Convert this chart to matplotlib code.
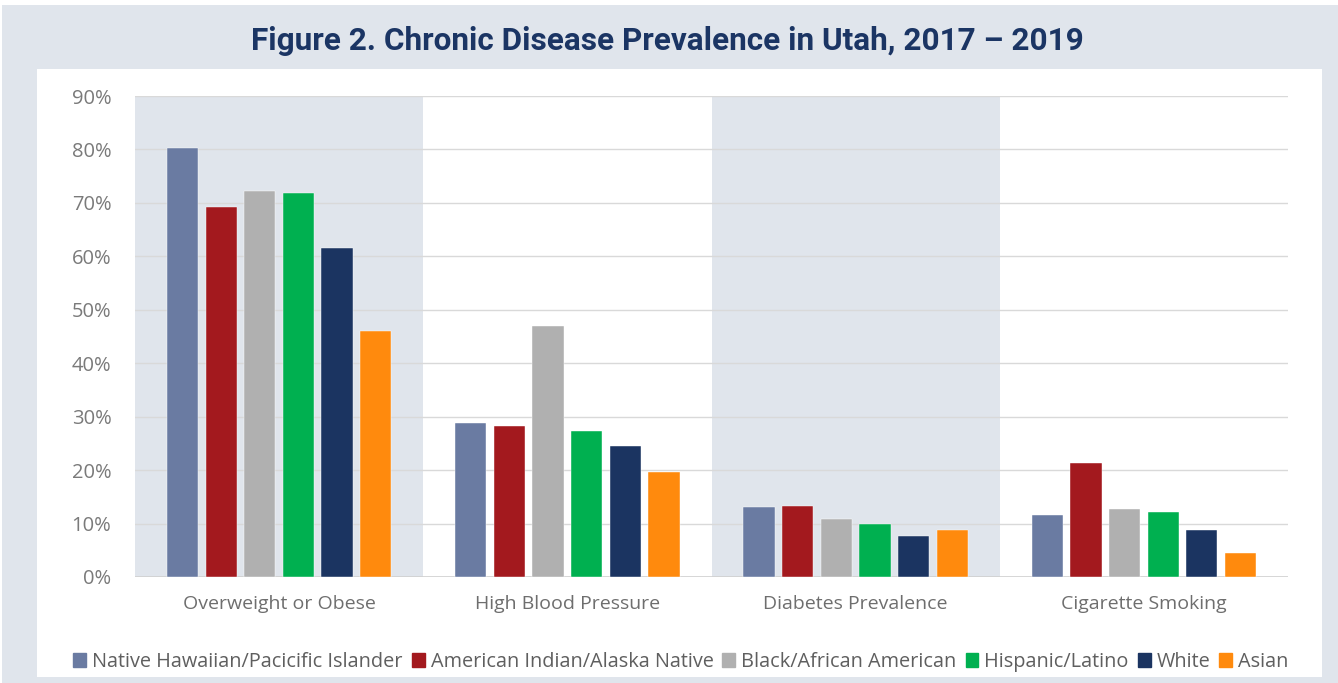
import matplotlib
matplotlib.use("Agg")
import matplotlib.pyplot as plt
import matplotlib.patches as mpatches
import numpy as np

categories = ["Overweight or Obese", "High Blood Pressure", "Diabetes Prevalence", "Cigarette Smoking"]
series_names = ["Native Hawaiian/Pacicific Islander", "American Indian/Alaska Native",
                "Black/African American", "Hispanic/Latino", "White", "Asian"]
native_hawaiian = [80.2, 28.8, 13.1, 11.6]
american_indian = [69.3, 28.3, 13.3, 21.3]
black = [72.2, 47.0, 10.9, 12.7]
hispanic = [71.8, 27.3, 9.9, 12.2]
white = [61.5, 24.5, 7.7, 8.8]
asian = [46.1, 19.6, 8.8, 4.5]
series_values = [native_hawaiian, american_indian, black, hispanic, white, asian]
colors = ["#6A7BA2", "#A3191E", "#B0B0B0", "#00B050", "#1B3461", "#FF8A0D"]
yticks = [0, 10, 20, 30, 40, 50, 60, 70, 80, 90]

W, H = 1338, 683
fig = plt.figure(figsize=(W / 100, H / 100), dpi=100)
fig.patch.set_facecolor("white")
BG = "#E0E5EC"
# outer gray frame and inner white panel
fig.patches.append(mpatches.Rectangle((2 / W, 0), 1 - 2 / W, 1 - 5 / H, transform=fig.transFigure,
                                      facecolor=BG, edgecolor="none", zorder=-10))
fig.patches.append(mpatches.Rectangle((37 / W, 6 / H), (1322 - 37) / W, (677 - 69) / H,
                                      transform=fig.transFigure, facecolor="white",
                                      edgecolor="none", zorder=-9))

fig.text(667 / W, 1 - 41 / H, "Figure 2. Chronic Disease Prevalence in Utah, 2017 \u2013 2019",
         ha="center", va="center", fontsize=22.7, fontweight="bold", color="#1B3564",
         family="Roboto")

x0, x1, ytop, ybot = 135, 1288, 96, 577
ax = fig.add_axes([x0 / W, 1 - ybot / H, (x1 - x0) / W, (ybot - ytop) / H])
ax.set_facecolor("none")
n = len(categories)
x = np.arange(n)
ax.set_xlim(-0.5, n - 0.5)
ax.set_ylim(0, 90)
for i in range(0, n, 2):
    ax.axvspan(i - 0.5, i + 0.5, color=BG, zorder=0, lw=0)
for t in yticks[1:]:
    ax.axhline(t, color="#D9D9D9", lw=1, zorder=1)
ax.axhline(0, color="#D0D0D0", lw=1.2, zorder=1)

slot = 0.134
bw = 0.108
for k, (vals, c) in enumerate(zip(series_values, colors)):
    ax.bar(x + (k - 2.5) * slot, vals, width=bw, color=c, zorder=3, edgecolor="white", lw=0.3)

for s in ax.spines.values():
    s.set_visible(False)
ax.set_yticks(yticks)
ax.set_yticklabels([f"{t}%" for t in yticks])
ax.set_xticks(x)
ax.set_xticklabels(categories)
ax.tick_params(length=0, colors="#6E6E6E", labelsize=14)
ax.tick_params(axis="y", pad=17, labelsize=14.5, colors="#7A7A7A")
ax.tick_params(axis="x", pad=13)
for lab in ax.get_xticklabels() + ax.get_yticklabels():
    lab.set_family("Open Sans")

handles = [mpatches.Patch(color=c, label=s) for s, c in zip(series_names, colors)]
fig.legend(handles=handles, loc="center", bbox_to_anchor=(681 / W, 1 - 662 / H), ncol=6,
           frameon=False, handlelength=0.65, handleheight=0.65, handletextpad=0.3,
           columnspacing=0.45, prop={"family": "Open Sans", "size": 14.3}, labelcolor="#5F5F5F")

fig.savefig("out.png", dpi=100, facecolor=fig.get_facecolor())
